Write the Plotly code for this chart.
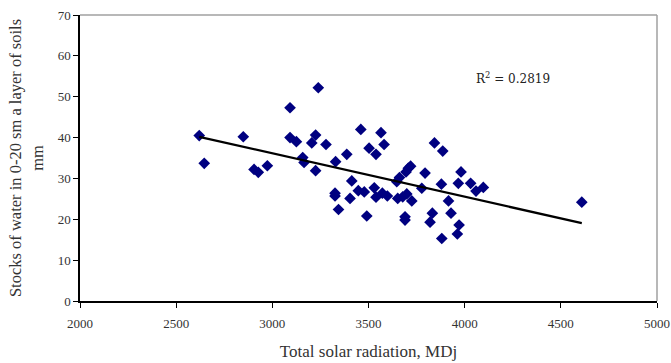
import numpy as np
import plotly.graph_objects as go

radiation = [2620, 2646, 2849, 2905, 2927, 2974, 3092, 3092, 3125, 3158,
             3165, 3225, 3205, 3239, 3225, 3279, 3329, 3387, 3413, 3460,
             3503, 3539, 3565, 3581, 3326, 3326, 3344, 3404, 3447, 3478,
             3491, 3530, 3539, 3572, 3598, 3647, 3661, 3652, 3678, 3699,
             3695, 3707, 3719, 3725, 3690, 3690, 3777, 3794, 3820, 3832,
             3843, 3879, 3886, 3881, 3916, 3929, 3962, 3971, 3967, 3981,
             4031, 4059, 4097, 4609]
water = [40.5, 33.7, 40.2, 32.2, 31.5, 33.1, 47.3, 40.0, 39.0, 35.1,
         33.9, 40.6, 38.7, 52.2, 31.9, 38.3, 34.1, 35.9, 29.4, 42.0,
         37.4, 35.9, 41.2, 38.3, 26.4, 25.7, 22.4, 25.1, 27.0, 26.7,
         20.8, 27.7, 25.4, 26.4, 25.7, 29.2, 30.2, 25.1, 25.5, 26.2,
         31.6, 32.5, 33.0, 24.5, 20.6, 19.8, 27.6, 31.3, 19.3, 21.5,
         38.7, 28.6, 36.7, 15.3, 24.5, 21.5, 16.4, 18.6, 28.8, 31.6,
         28.8, 26.9, 27.8, 24.2]
x_ticks = [2000, 2500, 3000, 3500, 4000, 4500, 5000]
y_ticks = [0, 10, 20, 30, 40, 50, 60, 70]
r2_text = "R<sup>2</sup> = 0.2819"

xa = np.array(radiation, dtype=float)
ya = np.array(water, dtype=float)
slope, intercept = np.polyfit(xa, ya, 1)
trend_x = [xa.min(), xa.max()]
trend_y = [slope * v + intercept for v in trend_x]

fig = go.Figure()
fig.add_trace(go.Scatter(x=radiation, y=water, mode="markers",
                         marker=dict(symbol="diamond", size=9, color="#000080"),
                         showlegend=False, hoverinfo="skip"))
fig.add_trace(go.Scatter(x=trend_x, y=trend_y, mode="lines",
                         line=dict(color="black", width=2.2),
                         showlegend=False, hoverinfo="skip"))

font_serif = "Liberation Serif, Times New Roman, serif"
fig.update_layout(
    width=671, height=363,
    margin=dict(l=80, r=14, t=15, b=62),
    paper_bgcolor="white", plot_bgcolor="white",
    font=dict(family=font_serif, size=13, color="#333333"),
    xaxis=dict(range=[2000, 5000], tickvals=x_ticks, showgrid=False, zeroline=False,
               automargin=False, ticklabeloverflow="allow", ticklabelstandoff=5,
               showline=True, linecolor="black", linewidth=1.5,
               ticks="outside", ticklen=5, tickcolor="black",
               tickfont=dict(family=font_serif, size=13, color="#333333"),
               title=dict(text="Total solar radiation, MDj", standoff=15,
                          font=dict(family=font_serif, size=17, color="#333333"))),
    yaxis=dict(range=[0, 70], tickvals=y_ticks, showgrid=False, zeroline=False,
               automargin=False, ticklabeloverflow="allow",
               showline=True, linecolor="black", linewidth=1.5,
               ticks="outside", ticklen=5, tickcolor="black",
               tickfont=dict(family=font_serif, size=13, color="#333333"),
               title=dict(text="Stocks of water in 0-20 sm a layer of soils<br>mm", standoff=10,
                          font=dict(family=font_serif, size=16.5, color="#333333"))),
    shapes=[
        dict(type="line", xref="paper", yref="paper", x0=0, x1=1, y0=1, y1=1,
             line=dict(color="#a0a0a0", width=1.5)),
        dict(type="line", xref="paper", yref="paper", x0=1, x1=1, y0=0, y1=1,
             line=dict(color="#a0a0a0", width=1.5)),
    ],
    annotations=[dict(x=4250, y=54.5, xref="x", yref="y", text=r2_text, showarrow=False,
                      font=dict(family="DejaVu Serif, serif", size=12, color="#222222"))],
)
fig.write_html("out.html", config={"displayModeBar": False},
               post_script="document.body.style.margin='0';document.body.style.overflow='hidden';")
